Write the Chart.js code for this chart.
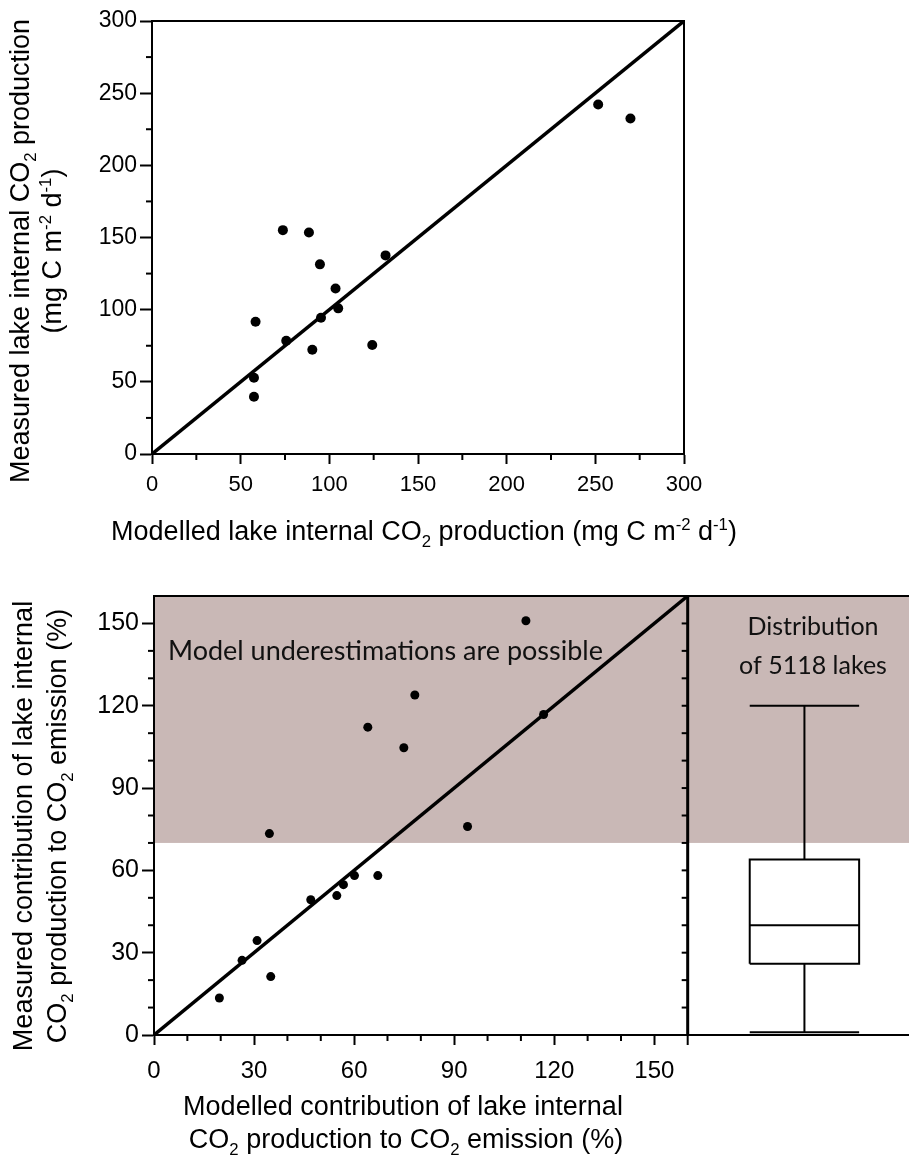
<!DOCTYPE html>
<html>
<head>
<meta charset="utf-8">
<script src="https://cdn.jsdelivr.net/npm/chart.js@4.4.1/dist/chart.umd.min.js"></script>
<style>
  body { margin: 0; background: #fff; }
  #wrap { position: relative; width: 909px; height: 1155px; }
  canvas { position: absolute; left: 0; }
  #prod { top: 0; }
  #contrib { top: 560px; }
</style>
</head>
<body>
<div id="wrap">
  <canvas id="prod" width="909" height="560"></canvas>
  <canvas id="contrib" width="909" height="595"></canvas>
</div>
<script>
// top panel: lake internal CO2 production (mg C m-2 d-1)
var modelledProd = [73.8, 88.5, 94.7, 131.7, 103.5, 105.0, 95.3, 58.4, 75.7, 90.4, 124.2, 57.5, 57.5, 251.6, 269.8];
var measuredProd = [155.1, 153.5, 131.4, 137.6, 114.7, 100.9, 94.4, 91.6, 78.5, 72.2, 75.5, 52.8, 39.7, 242.1, 232.5];
var prodTicks = [0, 50, 100, 150, 200, 250, 300];
var prodMinor = [25, 75, 125, 175, 225, 275];

// bottom panel: contribution to CO2 emission (%)
var modelledContrib = [34.6, 64.1, 78.2, 74.9, 60.1, 67.1, 56.8, 54.8, 47.0, 30.9, 26.4, 35.0, 19.6, 111.5, 116.8, 94.0];
var measuredContrib = [73.4, 112.2, 123.9, 104.7, 58.1, 58.1, 54.8, 50.8, 49.3, 34.4, 27.2, 21.3, 13.5, 151.0, 116.8, 76.0];
var contribTicks = [0, 30, 60, 90, 120, 150];
var contribMinor = [10, 20, 40, 50, 70, 80, 100, 110, 130, 140];
var contribMax = 160;
var underestFrom = 70;

// distribution of 5118 lakes: min, q1, median, q3, max
var lakeBox = [1, 26, 40, 64, 120];

var FONT = '"Liberation Sans", Arial, sans-serif';
var LABEL_FONT = 'Lato, "Open Sans", sans-serif';

function pts(xs, ys) {
  return xs.map(function (x, i) { return { x: x, y: ys[i] }; });
}

// text with sub/superscripts; kind 0 normal, 1 sub, 2 sup
function richText(ctx, parts, x, y, size, angle) {
  ctx.save();
  ctx.translate(x, y);
  ctx.rotate(angle || 0);
  ctx.fillStyle = '#000';
  ctx.textAlign = 'left';
  ctx.textBaseline = 'alphabetic';
  var sizes = [size, size * 0.62, size * 0.62];
  var shift = [0, size * 0.26, -size * 0.4];
  var total = 0;
  var widths = parts.map(function (p) {
    ctx.font = sizes[p[1]] + 'px ' + FONT;
    var w = ctx.measureText(p[0]).width;
    total += w;
    return w;
  });
  var cx = -total / 2;
  parts.forEach(function (p, i) {
    ctx.font = sizes[p[1]] + 'px ' + FONT;
    ctx.fillText(p[0], cx, shift[p[1]] + size * 0.35);
    cx += widths[i];
  });
  ctx.restore();
}

function setTicks(list) {
  return function (scale) {
    scale.ticks = list.map(function (v) { return { value: v }; });
  };
}

function axis(min, max, list, size, tl, pad, fs) {
  return {
    type: 'linear',
    min: min,
    max: max,
    afterBuildTicks: setTicks(list),
    afterFit: function (s) { if (s.isHorizontal()) s.height = size; else s.width = size; },
    grid: { drawOnChartArea: false, drawTicks: true, tickLength: tl, tickWidth: 2, tickColor: '#000' },
    border: { display: true, color: '#000', width: 2 },
    ticks: { color: '#000', padding: pad, font: { family: FONT, size: fs }, maxRotation: 0, autoSkip: false }
  };
}

function line(ctx, x1, y1, x2, y2, w) {
  ctx.beginPath();
  ctx.lineWidth = w;
  ctx.moveTo(x1, y1);
  ctx.lineTo(x2, y2);
  ctx.stroke();
}

var prodDecor = {
  id: 'prodDecor',
  afterDraw: function (chart) {
    var ctx = chart.ctx, a = chart.chartArea, x = chart.scales.x, y = chart.scales.y;
    ctx.save();
    ctx.strokeStyle = '#000';
    line(ctx, a.left, a.top, a.right + 1, a.top, 2);
    line(ctx, a.right, a.top, a.right, a.bottom, 2);
    prodMinor.forEach(function (v) {
      var px = x.getPixelForValue(v);
      line(ctx, px, a.bottom, px, a.bottom + 6, 2);
      var py = y.getPixelForValue(v);
      line(ctx, a.left - 6, py, a.left, py, 2);
    });
    richText(ctx, [['Measured lake internal CO', 0], ['2', 1], [' production', 0]], 20, 251, 27, -Math.PI / 2);
    richText(ctx, [['(mg C m', 0], ['-2', 2], [' d', 0], ['-1', 2], [')', 0]], 52, 251, 27, -Math.PI / 2);
    richText(ctx, [['Modelled lake internal CO', 0], ['2', 1], [' production (mg C m', 0], ['-2', 2], [' d', 0], ['-1', 2], [')', 0]], 424, 531, 27, 0);
    ctx.restore();
  }
};

new Chart(document.getElementById('prod'), {
  type: 'scatter',
  data: {
    datasets: [
      {
        data: pts([0, 300], [0, 300]),
        showLine: true, borderColor: '#000', borderWidth: 3.5, pointRadius: 0
      },
      {
        data: pts(modelledProd, measuredProd),
        backgroundColor: '#000', borderColor: '#000', pointRadius: 5, pointBorderWidth: 0
      }
    ]
  },
  options: {
    responsive: false,
    animation: false,
    layout: { padding: { top: 21, right: 225, left: 0, bottom: 0 } },
    plugins: { legend: { display: false }, tooltip: { enabled: false } },
    scales: {
      x: axis(0, 300, prodTicks, 106, 10, 8, 22),
      y: axis(0, 300, prodTicks, 152, 12, 3, 23)
    }
  },
  plugins: [prodDecor]
});

var boxL = 178.6, boxR = 211.4, boxC = 195;

var contribDecor = {
  id: 'contribDecor',
  beforeDraw: function (chart) {
    var ctx = chart.ctx, a = chart.chartArea, y = chart.scales.y;
    var top = y.getPixelForValue(contribMax), bot = y.getPixelForValue(underestFrom);
    ctx.save();
    ctx.fillStyle = '#c9b8b6';
    ctx.fillRect(a.left, top, chart.width - a.left, bot - top);
    ctx.restore();
  },
  afterDraw: function (chart) {
    var ctx = chart.ctx, a = chart.chartArea, x = chart.scales.x, y = chart.scales.y;
    ctx.save();
    ctx.strokeStyle = '#000';
    line(ctx, a.left, a.top, chart.width, a.top, 2);
    line(ctx, a.right, a.bottom, chart.width, a.bottom, 2);
    var sx = x.getPixelForValue(contribMax);
    line(ctx, sx, a.top, sx, a.bottom, 3);
    line(ctx, sx, a.bottom, sx, a.bottom + 10, 2);
    contribMinor.concat(contribTicks).forEach(function (v) {
      if (v === 0) return;
      var py = y.getPixelForValue(v);
      line(ctx, sx - 6, py, sx, py, 2);
    });
    contribMinor.forEach(function (v) {
      var px = x.getPixelForValue(v);
      line(ctx, px, a.bottom, px, a.bottom + 6, 2);
      var py = y.getPixelForValue(v);
      line(ctx, a.left - 6, py, a.left, py, 2);
    });
    ctx.fillStyle = '#111';
    ctx.textBaseline = 'alphabetic';
    ctx.font = '27px ' + LABEL_FONT;
    ctx.textAlign = 'left';
    ctx.fillText('Model underestimations are possible', 168, 100);
    ctx.font = '25px ' + LABEL_FONT;
    ctx.textAlign = 'center';
    ctx.fillText('Distribution', 813, 75);
    ctx.fillText('of 5118 lakes', 813, 114);
    richText(ctx, [['Measured contribution of lake internal', 0]], 23, 266, 27, -Math.PI / 2);
    richText(ctx, [['CO', 0], ['2', 1], [' production to CO', 0], ['2', 1], [' emission (%)', 0]], 57, 266, 27, -Math.PI / 2);
    richText(ctx, [['Modelled contribution of lake internal', 0]], 403, 546, 27, 0);
    richText(ctx, [['CO', 0], ['2', 1], [' production to CO', 0], ['2', 1], [' emission (%)', 0]], 406, 579, 27, 0);
    ctx.restore();
  }
};

function seg(data) {
  return { data: data, showLine: true, borderColor: '#000', borderWidth: 2, pointRadius: 0 };
}

new Chart(document.getElementById('contrib'), {
  type: 'scatter',
  data: {
    datasets: [
      {
        data: pts([0, contribMax], [0, contribMax]),
        showLine: true, borderColor: '#000', borderWidth: 3.5, pointRadius: 0
      },
      {
        data: pts(modelledContrib, measuredContrib),
        backgroundColor: '#000', borderColor: '#000', pointRadius: 4.5, pointBorderWidth: 0
      },
      seg(pts([boxL, boxR, boxR, boxL, boxL], [lakeBox[1], lakeBox[1], lakeBox[3], lakeBox[3], lakeBox[1]])),
      seg(pts([boxL, boxR], [lakeBox[2], lakeBox[2]])),
      seg(pts([boxC, boxC], [lakeBox[3], lakeBox[4]])),
      seg(pts([boxL, boxR], [lakeBox[4], lakeBox[4]])),
      seg(pts([boxC, boxC], [lakeBox[1], lakeBox[0]])),
      seg(pts([boxL, boxR], [lakeBox[0], lakeBox[0]]))
    ]
  },
  options: {
    responsive: false,
    animation: false,
    layout: { padding: { top: 36, right: 0, left: 0, bottom: 0 } },
    plugins: { legend: { display: false }, tooltip: { enabled: false } },
    scales: {
      x: axis(0, 225, contribTicks, 120, 10, 12, 24),
      y: axis(0, contribMax, contribTicks, 154, 12, 3, 25)
    }
  },
  plugins: [contribDecor]
});
</script>
</body>
</html>
